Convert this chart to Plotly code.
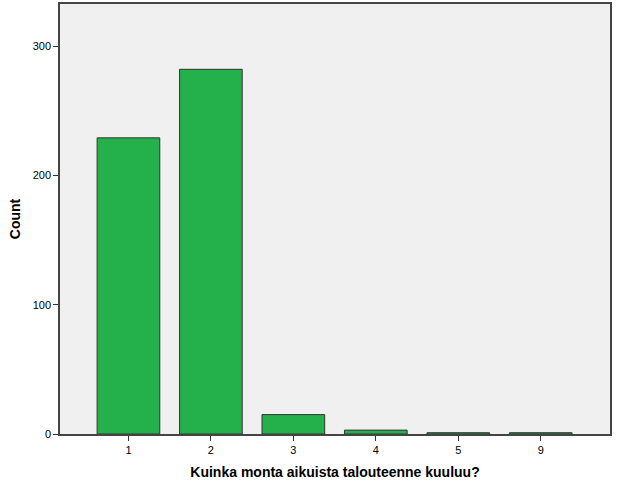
import plotly.graph_objects as go

categories = ["1", "2", "3", "4", "5", "9"]
counts = [229, 282, 15, 3, 1, 1]
y_ticks = [0, 100, 200, 300]

fig = go.Figure()
fig.add_trace(go.Bar(
    x=list(range(len(categories))),
    y=counts,
    width=0.76,
    marker=dict(color="#24B14C", line=dict(color="#333333", width=1)),
))

fig.update_layout(
    width=618, height=484,
    margin=dict(l=60, r=8, t=4, b=50, autoexpand=False),
    paper_bgcolor="white",
    plot_bgcolor="#F0F0F0",
    showlegend=False,
    font=dict(family="Liberation Sans, Arial", size=11, color="black"),
    xaxis=dict(
        range=[-0.83, 5.84],
        tickmode="array",
        tickvals=list(range(len(categories))),
        ticktext=categories,
        ticks="outside", ticklen=5, tickcolor="#333333",
        showline=True, linecolor="#444444", linewidth=1.5, mirror=True,
        showgrid=False, zeroline=False, automargin=False,
        title=dict(text="<b>Kuinka monta aikuista talouteenne kuuluu?</b>",
                   font=dict(size=14), standoff=12),
    ),
    yaxis=dict(
        range=[0, 332.5],
        tickmode="array", tickvals=y_ticks,
        ticks="outside", ticklen=5, tickcolor="#333333",
        showline=True, linecolor="#444444", linewidth=1.5, mirror=True,
        showgrid=False, zeroline=False, automargin=False,
        title=dict(text="<b>Count</b>", font=dict(size=14), standoff=9),
    ),
)

fig.write_html("out.html",
               config={"displayModeBar": False},
               post_script="document.body.style.margin='0';document.body.style.padding='0';")
